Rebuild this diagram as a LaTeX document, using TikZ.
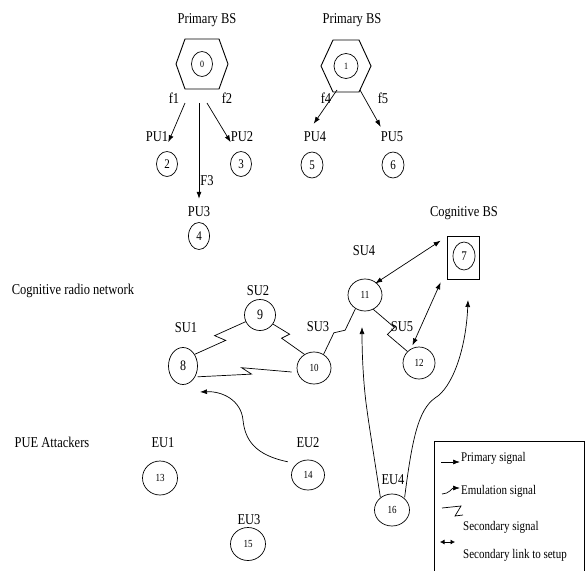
\documentclass[tikz,border=0pt]{standalone}
\usepackage{fontspec}
\setmainfont{Liberation Serif}
\usetikzlibrary{arrows.meta,shapes.geometric,calc}
\newcommand\vs[1]{\scalebox{1}[1.2]{#1}}
\begin{document}
\begin{tikzpicture}[x=1pt,y=-1pt,
  lbl/.style={inner sep=0pt,font=\fontsize{12.5}{13}\selectfont},
  leg/.style={inner sep=0pt,anchor=west,font=\fontsize{11}{12}\selectfont},
  nd/.style={draw,ellipse,inner sep=0pt,line width=0.7pt,font=\fontsize{#1}{#1}\selectfont},
  nd/.default=10,
  ln/.style={line width=0.7pt},
  prim/.style={ln,-{Latex[length=7pt,width=5pt]}},
  emu/.style={ln,-{Latex[length=7pt,width=5pt]}},
  dbl/.style={ln,{Latex[length=7pt,width=5pt]}-{Latex[length=7pt,width=5pt]}},
  dbls/.style={ln,{Latex[length=4.5pt,width=5pt]}-{Latex[length=4.5pt,width=5pt]}},
  hexa/.style={line width=0.9pt}
]
\useasboundingbox (0,0) rectangle (586,570);

% ---- Primary BS 0 ----
\node[lbl] (pbs0) at (207,20) {\vs{Primary BS}};
\node[nd=8,minimum width=21pt,minimum height=25pt] (n0) at (202,64) {\vs{0}};
\draw[hexa] ($(n0)+(-26,0)$) -- ($(n0)+(-17,-25)$) -- ($(n0)+(17,-25)$) -- ($(n0)+(26,0)$) -- ($(n0)+(17,25)$) -- ($(n0)+(-17,25)$) -- cycle;
% ---- Primary BS 1 ----
\node[lbl] (pbs1) at (352,20) {\vs{Primary BS}};
\node[nd=8,minimum width=24pt,minimum height=25pt] (n1) at (346,66) {\vs{1}};
\draw[hexa] ($(n1)+(-25,0)$) -- ($(n1)+(-13,-26)$) -- ($(n1)+(13,-26)$) -- ($(n1)+(25,0)$) -- ($(n1)+(13,26)$) -- ($(n1)+(-13,26)$) -- cycle;

% labels of primary users
\node[lbl] (f1) at (174,98) {\vs{f1}};
\node[lbl] (f2) at (227,98) {\vs{f2}};
\node[lbl] (F3) at (207,181) {\vs{F3}};
\node[lbl] (f4) at (326,98) {\vs{f4}};
\node[lbl] (f5) at (383,98) {\vs{f5}};
\node[lbl] (pu1) at (157,137) {\vs{PU1}};
\node[lbl] (pu2) at (242,137) {\vs{PU2}};
\node[lbl] (pu3) at (199,212) {\vs{PU3}};
\node[lbl] (pu4) at (315,137) {\vs{PU4}};
\node[lbl] (pu5) at (392,137) {\vs{PU5}};
\node[nd=11,minimum width=21pt,minimum height=25pt] (n2) at (167,164) {\vs{2}};
\node[nd=11,minimum width=21pt,minimum height=25pt] (n3) at (241,164) {\vs{3}};
\node[nd=11,minimum width=21pt,minimum height=27pt] (n4) at (199,236) {\vs{4}};
\node[nd=11,minimum width=22pt,minimum height=26pt] (n5) at (312,165) {\vs{5}};
\node[nd=11,minimum width=22pt,minimum height=26pt] (n6) at (393,165) {\vs{6}};

% primary signal arrows
\coordinate (s1) at (185,103);
\coordinate (s3) at (199,103);
\coordinate (s2) at (207,103);
\coordinate (s4) at (337,90);
\coordinate (s5) at (360,90);
\draw[prim] (s1) -- (pu1.south east);
\draw[prim] (s3) -- ($(pu3.north)+(0,-8)$);
\draw[prim] (s2) -- (pu2.south west);
\draw[prim] (s4) -- ($(pu4.north west)+(10,-8)$);
\draw[prim] (s5) -- ($(pu5.north west)+(0,-5)$);

% ---- Cognitive BS ----
\node[lbl] (cbs) at (464,213) {\vs{Cognitive BS}};
\node[draw,ln,minimum width=32pt,minimum height=43pt,inner sep=0pt] (box7) at (463,257.5) {};
\node[nd=11,minimum width=22pt,minimum height=28pt] (n7) at (464,256) {\vs{7}};

% ---- Cognitive radio network ----
\node[lbl] (crn) at (73,291) {\vs{Cognitive radio network}};
\node[lbl] (su1) at (186,328) {\vs{SU1}};
\node[lbl] (su2) at (258,291) {\vs{SU2}};
\node[lbl] (su3) at (318,327) {\vs{SU3}};
\node[lbl] (su4) at (364,251) {\vs{SU4}};
\node[lbl] (su5) at (402,327) {\vs{SU5}};
\node[nd=12,minimum width=29pt,minimum height=37pt] (n8) at (183,366) {\vs{8}};
\node[nd=12,minimum width=31pt,minimum height=31pt] (n9) at (260,315) {\vs{9}};
\node[nd=9,minimum width=34pt,minimum height=32pt] (n10) at (314,368) {\vs{10}};
\node[nd=9,minimum width=34pt,minimum height=32pt] (n11) at (365,295) {\vs{11}};
\node[nd=9,minimum width=32pt,minimum height=32pt] (n12) at (419,363) {\vs{12}};

% secondary (zigzag) links
\draw[ln] (n8.45) -- ($(n8.45)!0.55!(n9.205)+(3,4)$) -- ($(n8.45)!0.45!(n9.205)+(-3,-4)$) -- (n9.205);
\draw[ln] (n9.-35) -- ($(n9.-35)!0.4!(n10.125)+(4,-2)$) -- ($(n9.-35)!0.4!(n10.125)+(-4,2)$) -- (n10.125);
\draw[ln] (n10.55) -- ($(n10.55)!0.45!(n11.235)+(-4,-1)$) -- ($(n10.55)!0.55!(n11.235)+(4,1)$) -- (n11.235);
\draw[ln] (n11.-60) -- ($(n11.-60)!0.5!(n12.135)+(4,-3)$) -- ($(n11.-60)!0.5!(n12.135)+(-3,4)$) -- (n12.135);
\draw[ln] ($(n8.-30)+(1,3)$) -- ($(n8.-30)!0.55!(n10.west)+(0,3.5)$) -- ($(n8.-30)!0.45!(n10.west)+(0,-3.5)$) -- ($(n10.west)+(-5,4)$);

% secondary links to setup
\draw[dbl] ($(n11.north east)+(-2,0)$) -- ($(box7.north west)+(-6,5)$);
\draw[dbl] ($(n12.north west)+(5,-6)$) -- ($(box7.south west)+(-6,3)$);

% ---- PUE attackers ----
\node[lbl] (pue) at (52,442) {\vs{PUE Attackers}};
\node[lbl] (eu1) at (163,443) {\vs{EU1}};
\node[lbl] (eu2) at (308,443) {\vs{EU2}};
\node[lbl] (eu3) at (249,520) {\vs{EU3}};
\node[lbl] (eu4) at (393,480) {\vs{EU4}};
\node[nd=9,minimum width=35pt,minimum height=34pt] (n13) at (160,478) {\vs{13}};
\node[nd=9,minimum width=33pt,minimum height=30pt] (n14) at (308,475) {\vs{14}};
\node[nd=9,minimum width=35pt,minimum height=33pt] (n15) at (248,544) {\vs{15}};
\node[nd=9,minimum width=35pt,minimum height=32pt] (n16) at (392,510) {\vs{16}};

% emulation signals
\coordinate (e8) at (200,392);
\coordinate (e11) at (362,327);
\coordinate (e7) at (468,300);
\draw[emu] ($(n14.150)+(-6,-5)$) .. controls (255,455) and (245,440) .. (243,420) .. controls (241,400) and (222,391) .. (e8);
\draw[emu] ($(n16.north west)+(1,-1)$) .. controls (373,450) and (369,425) .. (367,410) .. controls (364,390) and (362,360) .. (e11);
\draw[emu] ($(n16.north east)+(0,-1)$) .. controls (412,440) and (418,410) .. (435,398) .. controls (452,388) and (466,350) .. (e7);

% ---- legend ----
\draw[ln] (434,572) -- (434,441) -- (584,441) -- (584,572);
\coordinate (la1) at (441,462); \coordinate (lb1) at (460,462);
\draw[prim] (la1) -- (lb1);
\node[leg] (lt1) at (461,458) {\vs{Primary signal}};
\coordinate (la2) at (442,494); \coordinate (lb2) at (460,488);
\draw[emu] (la2) .. controls (449,494) and (452,488) .. (lb2);
\node[leg] (lt2) at (461,491) {\vs{Emulation signal}};
\coordinate (la3) at (442,508); \coordinate (lb3) at (463,515);
\draw[ln] (la3) -- (461,506) -- (455,516) -- (lb3);
\node[leg] (lt3) at (463,527) {\vs{Secondary signal}};
\coordinate (la4) at (440,542); \coordinate (lb4) at (455,542);
\draw[dbls] (la4) -- (lb4);
\node[leg] (lt4) at (463,555) {\vs{Secondary link to setup}};
\end{tikzpicture}
\end{document}
